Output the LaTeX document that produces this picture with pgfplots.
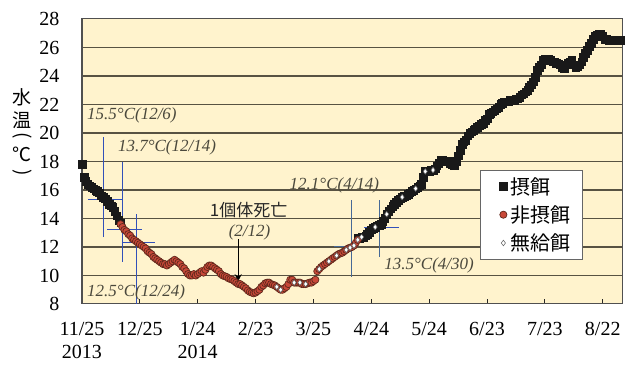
\documentclass[border=0pt]{standalone}
\usepackage{fontspec}
\setmainfont{Liberation Serif}
\newfontfamily\jp{Noto Sans CJK JP}
\usepackage{graphicx}
\usepackage{pgfplots}
\pgfplotsset{compat=1.18}
\usetikzlibrary{arrows.meta}
\pgfdeclarelayer{background}
\pgfsetlayers{background,main}

\definecolor{bgc}{RGB}{255,243,205}
\definecolor{gridc}{RGB}{88,82,66}
\definecolor{framec}{RGB}{80,80,80}
\definecolor{redfill}{RGB}{200,72,56}
\definecolor{rededge}{RGB}{96,40,28}
\definecolor{annot}{RGB}{74,72,60}
\definecolor{xhair}{RGB}{50,80,185}
\definecolor{xhairb}{RGB}{70,105,150}

\begin{document}
\begin{tikzpicture}
\begin{axis}[
  scale only axis, width=540pt, height=285pt,
  xmin=0, xmax=280, ymin=8, ymax=28,
  clip=false,
  xtick={0,30,...,270},
  xticklabels={{11/25\\2013},12/25,{1/24\\2014},2/23,3/25,4/24,5/24,6/23,7/23,8/22},
  xticklabel style={align=center, font=\fontsize{20}{23}\selectfont, yshift=-15pt},
  ytick={8,10,...,28},
  yticklabel style={font=\fontsize{20}{24}\selectfont, xshift=-19pt},
  /pgf/number format/assume math mode=true,
  major tick length=0pt,
  axis line style={draw=framec, line width=1pt},
  legend style={at={(0.737,0.47)}, anchor=north west, draw=gray!80!black,
    fill=white, font=\jp\fontsize{20}{24}\selectfont, inner xsep=10pt,
    inner ysep=5pt, row sep=6pt},
  legend image code/.code={\path (0pt,0pt) (18pt,0pt);\draw[#1] plot coordinates {(13pt,0pt)};},
  legend cell align=left,
]
\coordinate (sw) at (rel axis cs:0,0);
\coordinate (ne) at (rel axis cs:1,1);
% end points of the horizontal rules and foot points of the date ticks
\pgfplotsinvokeforeach{10,12,...,26}{
  \coordinate (L#1) at (axis cs:0,#1);
  \coordinate (R#1) at (axis cs:280,#1);
}
\pgfplotsinvokeforeach{30,60,...,270}{
  \coordinate (T#1) at (axis cs:#1,8);
}

% feeding
\addplot[only marks, mark=square*, mark size=3.8pt, color=black!90] coordinates {
(0,17.8)(1,16.9)(2,16.6)(3,16.4)(4,16.3)(5,16.2)(6,16.1)(7,16.0)(8,15.9)(9,15.8)
(10,15.6)(11,15.5)(12,15.4)(13,15.2)(14,15.0)(15,14.9)(16,14.8)(17,14.5)(18,14.2)(19,13.9)(20,13.7)
(143,12.6)(144,12.6)(145,12.7)(146,12.7)(147,12.8)(148,12.9)(149,13.05)(150,13.2)
(151,13.3)(152,13.4)(153,13.5)(154,13.55)(155,13.6)(156,13.8)(157,14.0)(158,14.3)
(159,14.5)(160,14.7)(161,14.85)(162,15.0)(163,15.15)(164,15.3)(165,15.4)(166,15.5)
(167,15.55)(168,15.6)(169,15.7)(170,15.8)(171,15.9)(172,16.0)(173,16.1)(174,16.2)
(175,16.3)(176,16.4)(177,16.9)(178,17.3)(179,17.3)(180,17.3)(181,17.4)(182,17.4)
(183,17.5)(184,17.7)(185,17.9)(186,18.1)(187,18.1)(188,18.0)(189,18.0)(190,18.0)
(191,17.9)(192,17.8)(193,17.75)(194,18.0)(195,18.4)(196,18.8)(197,19.2)(198,19.4)
(199,19.5)(200,19.8)(201,20.0)(202,20.1)(203,20.2)(204,20.3)(205,20.4)(206,20.5)
(207,20.6)(208,20.7)(209,20.9)(210,21.0)(211,21.3)(212,21.4)(213,21.5)(214,21.6)
(215,21.7)(216,21.8)(217,22.0)(218,22.1)(219,22.2)(220,22.2)(221,22.2)(222,22.3)
(223,22.3)(224,22.3)(225,22.4)(226,22.4)(227,22.5)(228,22.7)(229,22.75)(230,22.9)
(231,23.0)(232,23.2)(233,23.4)(234,23.6)(235,23.9)(236,24.4)(237,24.6)(238,24.8)
(239,25.1)(240,25.2)(241,25.2)(242,25.2)(243,25.1)(244,25.0)(245,25.0)(246,24.9)
(247,24.85)(248,24.8)(249,24.6)(250,24.5)(251,24.8)(252,24.9)(253,25.0)(254,25.1)
(255,24.8)(256,24.6)(257,24.7)(258,24.8)(259,25.0)(260,25.3)(261,25.6)(262,25.8)
(263,26.1)(264,26.3)(265,26.6)(266,26.8)(267,26.9)(268,26.95)(269,26.95)(270,26.8)
(271,26.6)(272,26.6)(273,26.5)(274,26.5)(275,26.5)(276,26.5)(277,26.5)(278,26.5)(279,26.5)
};
\addlegendentry{摂餌}

% not feeding
\addplot[only marks, mark=*, mark size=3.6pt, mark options={fill=redfill, draw=rededge, line width=0.7pt}] coordinates {
(20,13.6)(21,13.4)(22,13.2)(23,13.1)(24,12.9)(25,12.8)(26,12.6)(27,12.5)(28,12.4)(29,12.3)
(30,12.2)(31,12.1)(32,12.0)(33,11.9)(34,11.7)(35,11.6)(36,11.5)(37,11.3)(38,11.2)(39,11.1)
(40,11.0)(41,10.9)(42,10.8)(43,10.8)(44,10.7)(45,10.8)(46,10.9)(47,11.0)(48,11.1)(49,11.0)
(50,10.9)(51,10.8)(52,10.6)(53,10.5)(54,10.3)(55,10.1)(56,10.0)(57,10.0)(58,10.1)(59,10.0)
(60,10.1)(61,10.2)(62,10.3)(63,10.2)(64,10.4)(65,10.6)(66,10.7)(67,10.7)(68,10.6)(69,10.5)
(70,10.4)(71,10.3)(72,10.1)(73,10.0)(74,9.95)(75,9.9)(76,9.8)(77,9.75)(78,9.7)(79,9.6)
(80,9.5)(81,9.4)(82,9.4)(83,9.3)(84,9.2)(85,9.1)(86,8.95)(87,8.85)(88,8.8)(89,8.75)
(90,8.8)(91,8.9)(92,9.0)(93,9.2)(94,9.3)(95,9.45)(96,9.5)(97,9.5)(98,9.4)(99,9.35)
(100,9.3)(101,9.2)(102,9.1)(103,9.0)(104,9.0)(105,9.1)(106,9.2)(107,9.4)(108,9.7)(109,9.7)
(110,9.5)(111,9.5)(112,9.5)(113,9.5)(114,9.4)(115,9.4)(116,9.4)(117,9.45)(118,9.5)(119,9.5)
(120,9.6)(121,9.7)(122,10.3)(123,10.45)(124,10.6)(125,10.7)(126,10.8)(127,10.9)(128,11.0)(129,11.1)
(130,11.2)(131,11.3)(132,11.4)(133,11.5)(134,11.55)(135,11.6)(136,11.7)(137,11.8)(138,11.9)(139,11.95)
(140,12.0)(141,12.1)(142,12.3)(143,12.5)
};
\addlegendentry{非摂餌}

% no food given
\addplot[only marks, mark=diamond*, mark size=2.8pt, mark options={fill=white, draw=black!65, line width=0.5pt}] coordinates {
(101,9.2)(103,9.0)(110,9.5)(113,9.5)(116,9.4)(123,10.45)(128,11.0)(132,11.4)(137,11.8)
(139,11.95)(141,12.1)(143,12.5)(145,12.7)(152,13.4)(158,14.3)(166,15.5)(173,16.1)(178,17.3)(182,17.4)
};
\addlegendentry{無給餌}

% cross-hairs marking the reference temperatures
\addplot[xhair, line width=1pt, forget plot] coordinates {(11.4,12.7)(11.4,19.7)};
\addplot[xhair, line width=1pt, forget plot] coordinates {(3.1,15.3)(20.7,15.3)};
\addplot[xhair, line width=1pt, forget plot] coordinates {(21.2,10.95)(21.2,17.96)};
\addplot[xhair, line width=1pt, forget plot] coordinates {(12.9,13.2)(31,13.2)};
\addplot[xhair, line width=1pt, forget plot] coordinates {(28.5,8)(28.5,14.3)};
\addplot[xhair, line width=1pt, forget plot] coordinates {(20.7,12.35)(37.8,12.35)};
\addplot[xhairb, line width=1pt, forget plot] coordinates {(139.7,9.9)(139.7,15.3)};
\addplot[xhairb, line width=1pt, forget plot] coordinates {(130.9,12.0)(140.2,12.0)};
\addplot[xhairb, line width=1pt, forget plot] coordinates {(154.2,11.3)(154.2,15.3)};
\addplot[xhair, line width=1pt, forget plot] coordinates {(146.4,13.4)(164.5,13.4)};

\begin{scope}[every node/.style={font=\fontsize{17}{20}\selectfont\itshape, text=annot, inner sep=0pt}]
\node[anchor=west] at (axis cs:2.6,21.26) {15.5°C(12/6)};
\node[anchor=west] at (axis cs:18.6,19.02) {13.7°C(12/14)};
\node[anchor=west] at (axis cs:2.6,8.84) {12.5°C(12/24)};
\node[anchor=west] at (axis cs:107.6,16.35) {12.1°C(4/14)};
\node[anchor=west] at (axis cs:156.7,10.74) {13.5°C(4/30)};
\node at (axis cs:86.9,13.05) {(2/12)};
\end{scope}
\node[font=\jp\fontsize{17}{20}\selectfont, text=black!85, inner sep=0pt] at (axis cs:86.4,14.6) {1個体死亡};
\draw[-{Stealth[length=7pt,width=7pt]}, line width=0.9pt] (axis cs:81,12.55) -- (axis cs:81,9.6);

% vertical axis title, one glyph per line
\begin{scope}[every node/.style={font=\jp\fontsize{19}{21}\selectfont, inner sep=0pt}]
\node at (rel axis cs:-0.111,0.726) {水};
\node at (rel axis cs:-0.111,0.646) {温};
\node at (rel axis cs:-0.111,0.589) {\rotatebox{-90}{(}};
\node at (rel axis cs:-0.111,0.526) {℃};
\node at (rel axis cs:-0.111,0.460) {\rotatebox{-90}{)}};
\end{scope}
\end{axis}

% panel fill, rules and date ticks behind the data
\begin{pgfonlayer}{background}
  \fill[bgc] (sw) rectangle (ne);
  \foreach \y in {10,12,...,26} {\draw[gridc, line width=1.1pt] (L\y) -- (R\y);}
  \foreach \d in {30,60,...,270} {\draw[black!85, line width=1pt] (T\d) -- ++(0,5pt);}
\end{pgfonlayer}

\pgfresetboundingbox
\path (sw) ++(-82pt,-61pt) coordinate (bl);
\path (ne) ++(3pt,19pt) coordinate (tr);
\path[use as bounding box] (bl) rectangle (tr);
\end{tikzpicture}
\end{document}
